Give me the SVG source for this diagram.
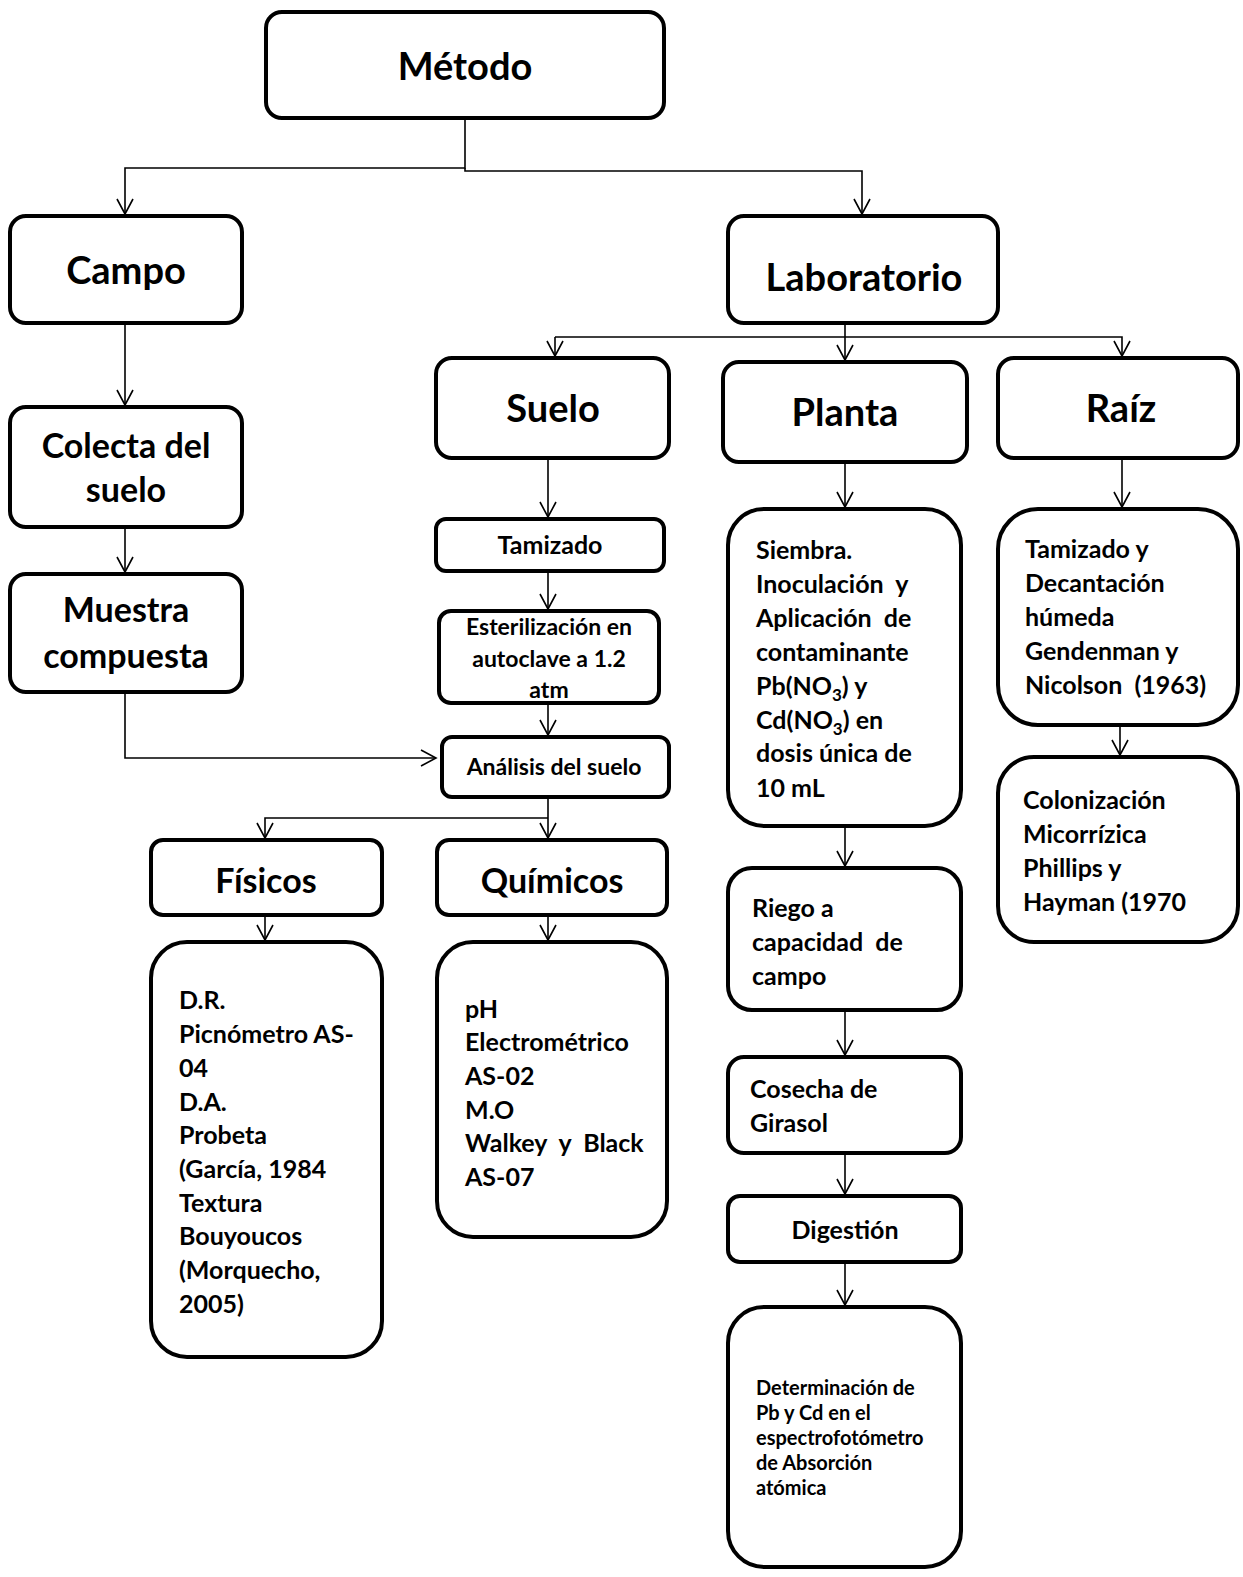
<svg xmlns="http://www.w3.org/2000/svg" width="1243" height="1577" viewBox="0 0 1243 1577">
<defs>
<marker id="ah" viewBox="0 0 20 20" refX="18" refY="10" markerWidth="20" markerHeight="20" markerUnits="userSpaceOnUse" orient="auto">
<path d="M3,2 L18,10 L3,18" fill="none" stroke="#000" stroke-width="1.6"/>
</marker>
</defs>
<style>
rect.b{fill:#fff;stroke:#000;stroke-width:4}
text{font-family:Lato,"Liberation Sans",sans-serif;font-weight:bold;fill:#000;white-space:pre}
.h{font-size:38px;text-anchor:middle}
.m{font-size:34px;text-anchor:middle}
.s{font-size:23px;text-anchor:middle}
.s2{font-size:25px;text-anchor:middle}
.t{font-size:25px}
.x{font-size:20px}
.c path{fill:none;stroke:#000;stroke-width:1.6}
</style>
<rect width="1243" height="1577" fill="#fff"/>
<g class="c" id="connectors">
<path d="M465,118 V168 H125 V214" marker-end="url(#ah)"/>
<path d="M465,168 V171 H862 V214" marker-end="url(#ah)"/>
<path d="M125,323 V405" marker-end="url(#ah)"/>
<path d="M125,527 V572" marker-end="url(#ah)"/>
<path d="M125,692 V758 H436" marker-end="url(#ah)"/>
<path d="M845,320 V360" marker-end="url(#ah)"/>
<path d="M555,337 H1122 V356" marker-end="url(#ah)"/>
<path d="M555,337 V356" marker-end="url(#ah)"/>
<path d="M548,458 V517" marker-end="url(#ah)"/>
<path d="M548,571 V609" marker-end="url(#ah)"/>
<path d="M548,703 V735" marker-end="url(#ah)"/>
<path d="M548,797 V838" marker-end="url(#ah)"/>
<path d="M548,818 H265 V838" marker-end="url(#ah)"/>
<path d="M265,915 V940" marker-end="url(#ah)"/>
<path d="M548,915 V940" marker-end="url(#ah)"/>
<path d="M845,462 V507" marker-end="url(#ah)"/>
<path d="M845,826 V866" marker-end="url(#ah)"/>
<path d="M845,1010 V1055" marker-end="url(#ah)"/>
<path d="M845,1153 V1194" marker-end="url(#ah)"/>
<path d="M845,1262 V1305" marker-end="url(#ah)"/>
<path d="M1122,458 V507" marker-end="url(#ah)"/>
<path d="M1120,725 V755" marker-end="url(#ah)"/>
</g>
<g id="metodo"><rect class="b" x="266" y="12" width="398" height="106" rx="16"/><text class="h" x="465" y="80">Método</text></g>
<g id="campo"><rect class="b" x="10" y="216" width="232" height="107" rx="16"/><text class="h" x="126" y="284">Campo</text></g>
<g id="laboratorio"><rect class="b" x="728" y="216" width="270" height="107" rx="16"/><text class="h" x="864" y="291">Laboratorio</text></g>
<g id="suelo"><rect class="b" x="436" y="358" width="233" height="100" rx="16"/><text class="h" x="553" y="422">Suelo</text></g>
<g id="planta"><rect class="b" x="723" y="362" width="244" height="100" rx="16"/><text class="h" x="845" y="426">Planta</text></g>
<g id="raiz"><rect class="b" x="998" y="358" width="240" height="100" rx="16"/><text class="h" x="1121" y="422">Raíz</text></g>
<g id="colecta"><rect class="b" x="10" y="407" width="232" height="120" rx="16"/><text class="m" x="126" y="458">Colecta del</text><text class="m" x="126" y="502">suelo</text></g>
<g id="muestra"><rect class="b" x="10" y="574" width="232" height="118" rx="16"/><text class="m" x="126" y="622">Muestra</text><text class="m" x="126" y="668">compuesta</text></g>
<g id="tamizado"><rect class="b" x="436" y="519" width="228" height="52" rx="10"/><text class="s2" x="550" y="554">Tamizado</text></g>
<g id="esterilizacion"><rect class="b" x="439" y="611" width="220" height="92" rx="12"/><text class="s" x="549" y="635">Esterilización en</text><text class="s" x="549" y="667">autoclave a 1.2</text><text class="s" x="549" y="698">atm</text></g>
<g id="analisis"><rect class="b" x="442" y="737" width="227" height="60" rx="10"/><text class="s" x="554" y="775">Análisis del suelo</text></g>
<g id="fisicos"><rect class="b" x="151" y="840" width="231" height="75" rx="12"/><text class="m" x="266" y="893">Físicos</text></g>
<g id="quimicos"><rect class="b" x="437" y="840" width="230" height="75" rx="12"/><text class="m" x="552" y="893">Químicos</text></g>
<g id="fisicos-detalle"><rect class="b" x="151" y="942" width="231" height="415" rx="36"/>
<text class="t" x="179" y="1009">D.R.</text>
<text class="t" x="179" y="1043">Picnómetro AS-</text>
<text class="t" x="179" y="1077">04</text>
<text class="t" x="179" y="1111">D.A.</text>
<text class="t" x="179" y="1144">Probeta</text>
<text class="t" x="179" y="1178">(García, 1984</text>
<text class="t" x="179" y="1212">Textura</text>
<text class="t" x="179" y="1245">Bouyoucos</text>
<text class="t" x="179" y="1279">(Morquecho,</text>
<text class="t" x="179" y="1313">2005)</text>
</g>
<g id="quimicos-detalle"><rect class="b" x="437" y="942" width="230" height="295" rx="36"/>
<text class="t" x="465" y="1018">pH</text>
<text class="t" x="465" y="1051">Electrométrico</text>
<text class="t" x="465" y="1085">AS-02</text>
<text class="t" x="465" y="1119">M.O</text>
<text class="t" x="465" y="1152">Walkey  y  Black</text>
<text class="t" x="465" y="1186">AS-07</text>
</g>
<g id="siembra"><rect class="b" x="728" y="509" width="233" height="317" rx="36"/>
<text class="t" x="756" y="559">Siembra.</text>
<text class="t" x="756" y="593">Inoculación  y</text>
<text class="t" x="756" y="627">Aplicación  de</text>
<text class="t" x="756" y="661">contaminante</text>
<text class="t" x="756" y="695">Pb(NO<tspan font-size="17" dy="6">3</tspan><tspan dy="-6">) y</tspan></text>
<text class="t" x="756" y="729">Cd(NO<tspan font-size="17" dy="6">3</tspan><tspan dy="-6">) en</tspan></text>
<text class="t" x="756" y="762">dosis única de</text>
<text class="t" x="756" y="797">10 mL</text>
</g>
<g id="riego"><rect class="b" x="728" y="868" width="233" height="142" rx="24"/>
<text class="t" x="752" y="917">Riego a</text>
<text class="t" x="752" y="951">capacidad  de</text>
<text class="t" x="752" y="985">campo</text>
</g>
<g id="cosecha"><rect class="b" x="728" y="1057" width="233" height="96" rx="16"/>
<text class="t" x="750" y="1098">Cosecha de</text>
<text class="t" x="750" y="1132">Girasol</text>
</g>
<g id="digestion"><rect class="b" x="728" y="1196" width="233" height="66" rx="12"/><text class="t" x="845" y="1239" text-anchor="middle">Digestión</text></g>
<g id="determinacion"><rect class="b" x="728" y="1307" width="233" height="260" rx="36"/>
<text class="x" x="756" y="1395">Determinación de</text>
<text class="x" x="756" y="1420">Pb y Cd en el</text>
<text class="x" x="756" y="1445">espectrofotómetro</text>
<text class="x" x="756" y="1470">de Absorción</text>
<text class="x" x="756" y="1495">atómica</text>
</g>
<g id="tamizado-raiz"><rect class="b" x="998" y="509" width="240" height="216" rx="40"/>
<text class="t" x="1025" y="558">Tamizado y</text>
<text class="t" x="1025" y="592">Decantación</text>
<text class="t" x="1025" y="626">húmeda</text>
<text class="t" x="1025" y="660">Gendenman y</text>
<text class="t" x="1025" y="694">Nicolson  (1963)</text>
</g>
<g id="colonizacion"><rect class="b" x="998" y="757" width="240" height="185" rx="36"/>
<text class="t" x="1023" y="809">Colonización</text>
<text class="t" x="1023" y="843">Micorrízica</text>
<text class="t" x="1023" y="877">Phillips y</text>
<text class="t" x="1023" y="911">Hayman (1970</text>
</g>
</svg>
